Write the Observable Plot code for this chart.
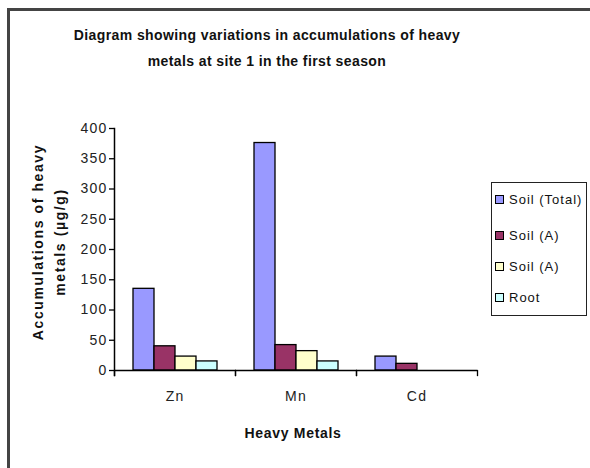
<!DOCTYPE html>
<html><head><meta charset="utf-8">
<script src="https://cdn.jsdelivr.net/npm/d3@7"></script>
<script src="https://cdn.jsdelivr.net/npm/@observablehq/plot@0.6"></script>
<style>
body{margin:0;background:#fff;}
#wrap{position:relative;width:590px;height:468px;overflow:hidden;font-family:"Liberation Sans",Arial,sans-serif;color:#111;}
#border{position:absolute;left:7px;top:8px;width:700px;height:600px;border-left:3px solid #444;border-top:3px solid #444;}
#title{position:absolute;left:0;top:22px;width:534px;text-align:center;font-weight:bold;font-size:14px;line-height:26px;letter-spacing:0.4px;}
#ylab{position:absolute;left:49px;top:242px;transform:translate(-50%,-50%) rotate(-90deg);white-space:nowrap;text-align:center;font-weight:bold;font-size:14px;line-height:22px;letter-spacing:1.6px;}
#xlab{position:absolute;left:293px;top:433px;transform:translate(-50%,-50%);white-space:nowrap;font-weight:bold;font-size:14px;letter-spacing:0.7px;}
#legend{position:absolute;left:491px;top:182px;width:94px;height:132px;border:1.5px solid #222;}
.item{position:absolute;left:3px;height:16px;line-height:16px;font-size:13px;letter-spacing:1px;white-space:nowrap;}
.sw{display:inline-block;width:7px;height:7px;border:1px solid #000;margin-right:5px;vertical-align:middle;position:relative;top:-1px;}
#chart{position:absolute;left:0;top:0;}
#chart svg text{letter-spacing:1.2px;}
</style>
</head><body>
<div id="wrap">
  <div id="border"></div>
  <div id="chart"></div>
  <div id="title">Diagram showing variations in accumulations of heavy<br>metals at site 1 in the first season</div>
  <div id="ylab">Accumulations of heavy<br>metals (µg/g)</div>
  <div id="xlab">Heavy Metals</div>
  <div id="legend"></div>
</div>
<script>
const metals = ["Zn", "Mn", "Cd"];
const seriesKeys = ["soilTotal", "soilA1", "soilA2", "root"];
const seriesLabels = ["Soil (Total)", "Soil (A)", "Soil (A)", "Root"];
const seriesColors = ["#9999ff", "#993366", "#ffffcc", "#ccffff"];
const soilTotal = [135, 376, 23];
const soilA1 = [40, 42, 11];
const soilA2 = [23, 32, 0];
const root = [15, 15, 0];
const yTicks = [0, 50, 100, 150, 200, 250, 300, 350, 400];
const legendY = [200, 236, 267, 298];

const values = {soilTotal, soilA1, soilA2, root};
const data = metals.flatMap((m, i) => seriesKeys.map(k => ({metal: m, series: k, value: values[k][i]})));

const chart = Plot.plot({
  width: 590, height: 468,
  marginLeft: 113, marginRight: 113, marginTop: 128, marginBottom: 93,
  style: {fontFamily: "Liberation Sans, Arial, sans-serif", fontSize: "14px", background: "transparent", overflow: "visible"},
  fx: {domain: metals, padding: 0, label: null, axis: null},
  x: {domain: seriesKeys, paddingInner: 0, paddingOuter: 0.77, axis: null},
  y: {domain: [0, 400], range: [370, 128], axis: null},
  color: {domain: seriesKeys, range: seriesColors},
  marks: [
    Plot.barY(data, {fx: "metal", x: "series", y: "value", fill: "series", stroke: "#000", strokeWidth: 1.3}),
    Plot.ruleY([0], {stroke: "#000", strokeWidth: 1.5}),
    Plot.frame({anchor: "left", insetTop: 242, stroke: "#000", strokeWidth: 1.3}),
    Plot.frame({anchor: "right", insetTop: 242, stroke: "#000", strokeWidth: 1.3}),
    Plot.frame({anchor: "left", facetAnchor: "left", stroke: "#000", strokeWidth: 1.5}),
    Plot.axisY({ticks: yTicks, tickSize: 5, tickPadding: 2, label: null, stroke: "#000", strokeWidth: 1.3, fill: "#222", fontSize: 14}),
    Plot.axisFx({anchor: "bottom", tickSize: 0, tickPadding: 16, label: null, fill: "#222", fontSize: 14})
  ]
});
document.getElementById("chart").appendChild(chart);

const legend = document.getElementById("legend");
seriesKeys.forEach((k, i) => {
  const d = document.createElement("div");
  d.className = "item";
  d.style.top = (legendY[i] - 182 - 9) + "px";
  const sw = document.createElement("span");
  sw.className = "sw";
  sw.style.background = seriesColors[i];
  d.appendChild(sw);
  d.appendChild(document.createTextNode(seriesLabels[i]));
  legend.appendChild(d);
});
</script>
</body></html>
